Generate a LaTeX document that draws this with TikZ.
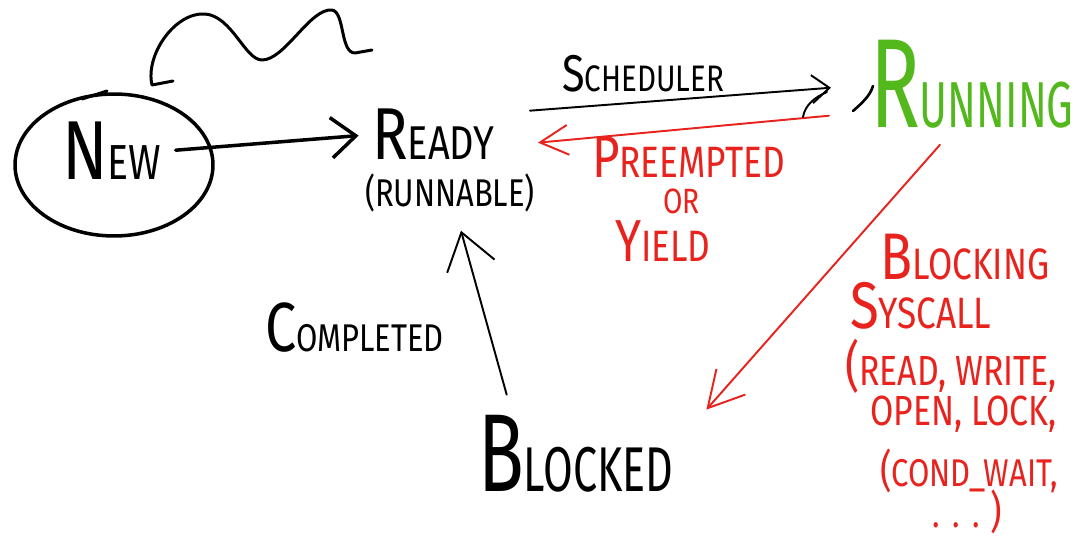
\documentclass[tikz,border=0pt]{standalone}
\usepackage{fontspec}
\setmainfont{Fira Sans}
\usetikzlibrary{arrows.meta,shapes.geometric}
\definecolor{penred}{HTML}{E8231E}
\definecolor{pengreen}{HTML}{52B81C}
% big first letter, squeezed word
\newcommand{\hand}[4][0.8]{\scalebox{#1}[1]{\scalebox{#2}{#3}#4}}

\begin{document}
\begin{tikzpicture}[
        x=0.02cm, y=-0.02cm,
        word/.style={
          anchor=base west,
          inner sep=1pt
          },
        pen/.style={
          line width=1.1pt,
          line cap=round,
          line join=round
          },
        marker/.style={
          pen,
          line width=2pt
          },
        redpen/.style={
          pen,
          draw=penred
          }
        ]
        \useasboundingbox[fill=white] (0,0) rectangle (1089,540);
        % states
        \node[marker, draw, ellipse, minimum width=3.96cm, minimum height=2.84cm] (new) at (114,165) {};
        \node[word, font=\fontsize{28}{30}\selectfont] (newlabel) at (60,180) {\hand{1.7}{N}{EW}};
        \node[word, font=\fontsize{27}{30}\selectfont] (ready) at (370,160) {\hand{1.55}{R}{EADY}};
        \node[word, font=\fontsize{22}{26}\selectfont] (runnable) at (363,207) {\hand{1}{(}{RUNNABLE)}};
        \node[word, font=\fontsize{37}{40}\selectfont, text=pengreen] (running) at (868,128) {\hand[0.65]{1.95}{R}{UNNING}};
        \node[word, font=\fontsize{36}{40}\selectfont] (blocked) at (476,492) {\hand[0.68]{1.75}{B}{LOCKED}};
        % labels
        \node[word, font=\fontsize{21}{24}\selectfont] (scheduler) at (560,92) {\hand{1.4}{S}{CHEDULER}};
        \node[word, font=\fontsize{25}{28}\selectfont, text=penred] (preempted) at (590,178) {\hand{1.35}{P}{REEMPTED}};
        \node[word, font=\fontsize{20}{24}\selectfont, text=penred] (orword) at (661,214) {\hand{1}{O}{R}};
        \node[word, font=\fontsize{25}{28}\selectfont, text=penred] (yield) at (613,262) {\hand{1.35}{Y}{IELD}};
        \node[word, font=\fontsize{22}{26}\selectfont] (completed) at (263,352) {\hand{1.8}{C}{OMPLETED}};
        \node[word, font=\fontsize{25}{28}\selectfont, text=penred] (blocking) at (878,280) {\hand{1.5}{B}{LOCKING}};
        \node[word, font=\fontsize{25}{28}\selectfont, text=penred] (syscall) at (848,329) {\hand{1.5}{S}{YSCALL}};
        \node[word, font=\fontsize{24}{28}\selectfont, text=penred] (rwlist) at (843,386) {\hand{1.3}{(}{READ, WRITE,}};
        \node[word, font=\fontsize{24}{28}\selectfont, text=penred] (oplist) at (868,426) {\hand{1}{O}{PEN, LOCK,}};
        \node[word, font=\fontsize{22}{26}\selectfont, text=penred] (condlist) at (878,486) {\hand{1.15}{(}{COND\_WAIT,}};
        \node[word, font=\fontsize{22}{26}\selectfont, text=penred] (dotlist) at (930,527) {\hand{1}{.\hspace{9pt}.\hspace{9pt}.\hspace{8pt}}{\scalebox{1.15}{)}}};
        % transitions
        \draw[marker, -{Straight Barb[length=14pt, width=23pt]}, shorten <=7pt, shorten >=6.5pt]
          (newlabel.east) -- (ready.west);
        \draw[pen, -{Straight Barb[length=10pt, width=16pt]}]
          ([shift={(34,-24)}]ready.east) -- ([shift={(-37,3)}]running.west);
        \draw[redpen, -{Straight Barb[length=16pt, width=17pt]}]
          ([shift={(-39,31)}]running.west) -- ([shift={(42,8)}]ready.east);
        \draw[redpen, -{Straight Barb[length=20pt, width=22pt]}]
          ([shift={(-32,14)}]running.south) -- ([shift={(31,-4)}]blocked.north east);
        \draw[pen, -{Straight Barb[length=20pt, width=28pt]}]
          ([shift={(-69,-19)}]blocked.north) -- ([shift={(11,16)}]runnable.south);
        % stray pen strokes
        \draw[pen, line width=1.7pt] (173,81) -- (152,85)
          .. controls (145,55) and (175,12) .. (205,14)
          .. controls (232,16) and (245,60) .. (262,60)
          .. controls (285,60) and (310,8) .. (332,10)
          .. controls (345,12) and (340,53) .. (355,53) -- (372,50);
        \draw[pen, line width=1.7pt] (82,99) -- (107,91);
        \draw[pen] (803,117) .. controls (805,105) and (815,97) .. (827,92);
        \draw[pen, line width=1.5pt] (853,111) .. controls (862,103) and (870,96) .. (873,86);
\end{tikzpicture}
\end{document}
